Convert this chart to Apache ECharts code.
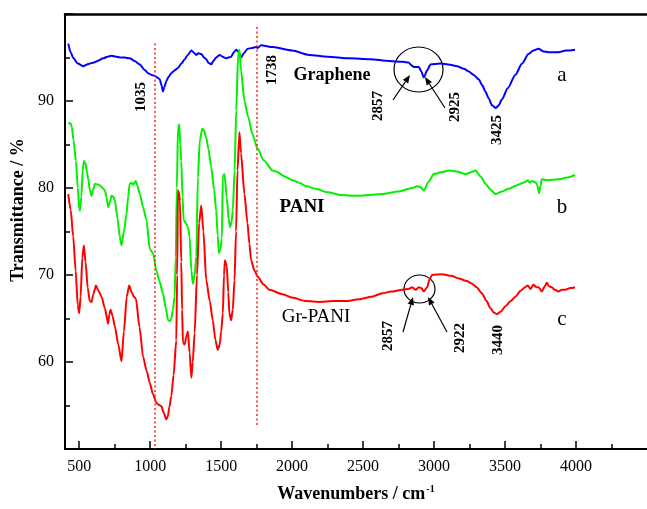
<!DOCTYPE html>
<html>
<head>
<meta charset="utf-8">
<script src="https://cdn.jsdelivr.net/npm/echarts@6/dist/echarts.min.js"></script>
<style>html,body{margin:0;padding:0;background:#fff;}#c{width:647px;height:509px;}</style>
</head>
<body>
<div id="c"></div>
<script>
// ---------- data (wavenumber cm-1, transmittance %) ----------
const graphene = [[423,96.6],[440,95.6],[458,94.95],[490,94.3],[528,94.0],[555,94.2],[576,94.3],[599,94.4],[630,94.6],[669,94.9],[700,95.1],[728,95.2],[760,95.1],[786,95.0],[820,95.0],[856,94.9],[890,94.6],[927,94.2],[960,93.6],[985,93.2],[1010,93.0],[1032,92.9],[1050,92.7],[1067,92.5],[1080,91.8],[1090,91.1],[1100,91.6],[1114,92.3],[1130,92.8],[1149,93.2],[1170,93.5],[1196,93.8],[1220,94.3],[1243,94.8],[1265,95.3],[1290,95.8],[1305,95.6],[1325,95.3],[1340,95.5],[1360,95.4],[1380,95.0],[1395,94.8],[1410,94.4],[1430,94.2],[1445,94.6],[1465,95.0],[1488,95.3],[1510,95.1],[1535,94.9],[1550,95.0],[1570,95.1],[1590,95.6],[1606,95.9],[1620,95.7],[1641,95.0],[1660,95.5],[1687,96.0],[1720,96.1],[1746,96.2],[1757,96.1],[1781,96.4],[1863,96.2],[2000,95.8],[2120,95.3],[2250,95.1],[2401,94.9],[2550,94.8],[2682,94.6],[2780,94.5],[2823,94.4],[2840,94.1],[2858,93.9],[2893,93.9],[2910,93.4],[2928,92.7],[2950,93.5],[2975,94.2],[3045,94.3],[3100,94.2],[3162,94.0],[3210,93.7],[3244,93.4],[3280,93.0],[3314,92.5],[3340,91.8],[3361,91.1],[3385,90.3],[3408,89.5],[3436,89.2],[3455,89.5],[3478,90.2],[3520,91.5],[3572,93.0],[3620,94.3],[3665,95.4],[3700,95.8],[3736,96.0],[3770,95.7],[3806,95.6],[3876,95.6],[3930,95.8],[3993,95.9]];

const pani = [[423,87.5],[440,87.4],[447,87.1],[460,85.5],[477,83.1],[490,80.0],[500,77.6],[505,77.4],[515,79.0],[525,82.0],[533,83.1],[545,82.8],[555,81.8],[564,81.0],[575,79.8],[587,79.1],[598,79.8],[611,80.5],[630,80.4],[646,80.3],[665,80.0],[681,79.7],[692,79.0],[704,77.8],[715,78.3],[728,79.1],[740,79.0],[751,78.6],[770,76.5],[785,74.5],[798,73.4],[815,75.0],[833,77.0],[845,79.0],[856,80.5],[868,80.6],[880,80.4],[899,80.8],[910,80.3],[927,79.3],[950,77.8],[974,76.3],[997,73.0],[1020,72.5],[1044,70.5],[1065,69.3],[1090,67.9],[1110,66.2],[1126,64.8],[1140,64.7],[1149,65.0],[1160,66.0],[1172,67.5],[1180,72.0],[1188,80.0],[1196,87.0],[1205,87.3],[1212,85.0],[1219,83.1],[1228,79.0],[1236,76.3],[1250,76.0],[1266,75.5],[1278,74.4],[1290,70.5],[1301,69.0],[1313,70.0],[1325,72.1],[1336,81.2],[1350,85.5],[1367,86.8],[1380,86.6],[1395,85.8],[1410,84.5],[1430,82.4],[1450,79.8],[1465,77.4],[1476,74.5],[1484,72.5],[1495,73.0],[1505,74.2],[1512,81.4],[1523,81.6],[1540,78.9],[1552,76.5],[1563,75.5],[1575,76.2],[1582,77.4],[1595,82.0],[1606,88.9],[1620,95.5],[1629,95.9],[1640,93.5],[1664,90.0],[1690,88.2],[1720,86.2],[1757,84.5],[1800,83.2],[1863,82.0],[1886,81.9],[1950,81.3],[2003,80.9],[2050,80.6],[2100,80.2],[2167,79.9],[2249,79.5],[2350,79.2],[2448,79.1],[2550,79.2],[2635,79.3],[2750,79.6],[2846,80.0],[2880,80.2],[2905,80.1],[2928,79.7],[2960,80.7],[2998,81.6],[3050,81.8],[3103,82.0],[3160,81.9],[3221,81.6],[3260,81.8],[3291,82.0],[3330,81.3],[3361,80.5],[3400,79.8],[3431,79.3],[3480,79.6],[3525,79.9],[3580,80.3],[3642,80.7],[3660,80.9],[3675,80.6],[3689,80.8],[3710,80.7],[3724,80.5],[3740,79.4],[3750,80.3],[3759,81.0],[3800,80.9],[3876,81.0],[3940,81.2],[3993,81.5]];

const grPani = [[423,79.3],[440,77.5],[458,74.4],[475,70.5],[490,66.5],[500,65.6],[510,67.5],[522,72.0],[533,73.4],[545,71.5],[560,68.5],[575,67.0],[587,66.9],[600,67.8],[618,68.8],[635,68.2],[658,67.5],[680,66.2],[704,64.4],[712,65.5],[721,66.0],[735,65.3],[751,64.1],[775,62.0],[798,60.1],[815,63.5],[835,67.5],[852,68.8],[870,68.0],[885,67.5],[899,67.3],[925,64.0],[950,60.6],[975,59.0],[997,57.6],[1020,56.3],[1044,55.3],[1060,55.1],[1079,54.9],[1095,54.2],[1114,53.4],[1125,53.8],[1135,54.8],[1149,56.1],[1165,58.5],[1184,62.5],[1190,70.0],[1196,79.7],[1202,79.5],[1210,78.5],[1219,71.5],[1225,66.0],[1231,62.2],[1243,62.0],[1254,62.9],[1266,63.5],[1278,61.0],[1290,58.2],[1300,60.0],[1313,63.3],[1330,70.0],[1345,76.0],[1360,78.0],[1375,75.0],[1395,69.4],[1420,67.0],[1441,64.8],[1460,62.5],[1476,61.4],[1490,62.0],[1500,63.5],[1512,65.6],[1520,70.0],[1527,71.7],[1540,71.0],[1550,68.0],[1558,65.6],[1570,64.8],[1582,66.0],[1594,69.4],[1605,75.0],[1615,82.0],[1629,86.4],[1640,84.0],[1664,79.3],[1685,76.0],[1699,73.6],[1711,71.7],[1735,70.5],[1757,69.8],[1800,68.9],[1839,68.3],[1933,67.8],[2000,67.4],[2097,67.0],[2200,66.9],[2284,67.0],[2380,67.0],[2471,67.2],[2560,67.5],[2635,67.9],[2700,68.1],[2776,68.3],[2820,68.4],[2846,68.6],[2870,68.3],[2893,68.6],[2910,68.5],[2928,68.1],[2951,68.6],[2968,69.5],[2986,70.0],[3056,70.1],[3120,69.9],[3174,69.6],[3230,69.3],[3267,69.0],[3300,68.6],[3337,67.9],[3370,67.0],[3396,66.2],[3420,65.7],[3443,65.5],[3470,65.8],[3502,66.4],[3540,67.0],[3572,67.5],[3610,68.2],[3642,68.6],[3660,68.8],[3680,68.4],[3700,68.9],[3720,68.6],[3736,68.6],[3759,68.1],[3780,68.7],[3794,69.1],[3810,68.7],[3829,68.6],[3850,68.3],[3876,68.1],[3900,68.3],[3923,68.3],[3960,68.5],[3993,68.6]];

const xLabelValues = [500,1000,1500,2000,2500,3000,3500,4000];
const xMinorValues = [750,1250,1750,2250,2750,3250,3750,4250];
const yLabelValues = [60,70,80,90];
const refLines = [[1035, 96.6, 50], [1750, 98.5, 52.5]];

// ---------- chart ----------
const FONT = '"Liberation Serif", "Times New Roman", serif';
const chart = echarts.init(document.getElementById('c'), null, {renderer: 'canvas'});

function arrow(x0, y0, x1, y1) {
  const dx = x1 - x0, dy = y1 - y0, L = Math.hypot(dx, dy);
  const ux = dx / L, uy = dy / L, hl = 8, hw = 3.2;
  const bx = x1 - ux * hl, by = y1 - uy * hl;
  return {
    type: 'group', children: [
      {type: 'line', shape: {x1: x0, y1: y0, x2: bx, y2: by}, style: {stroke: '#000', lineWidth: 1.2}},
      {type: 'polygon', shape: {points: [[x1, y1], [bx - uy * hw, by + ux * hw], [bx + uy * hw, by - ux * hw]]}, style: {fill: '#000'}}
    ]
  };
}
function vtext(t, x, y, size, weight) {
  return {type: 'text', x: x, y: y, rotation: Math.PI / 2,
    style: {text: t, font: (weight || 'bold') + ' ' + size + 'px ' + FONT, fill: '#000', textAlign: 'center', textVerticalAlign: 'middle'}};
}
function htext(t, x, y, size, weight) {
  return {type: 'text', x: x, y: y,
    style: {text: t, font: (weight || 'normal') + ' ' + size + 'px ' + FONT, fill: '#000', textAlign: 'center', textVerticalAlign: 'middle'}};
}

const lineSeries = (name, data, color) => ({
  name: name, type: 'line', data: data, showSymbol: false, symbol: 'none',
  smooth: 0.25, smoothMonotone: 'x',
  lineStyle: {color: color, width: 2}, xAxisIndex: 0, yAxisIndex: 0, z: 3
});

const option = {
  animation: false,
  backgroundColor: '#fff',
  grid: {left: 65, top: 14, right: -2, bottom: 60},
  xAxis: [
    {type: 'value', position: 'bottom', min: 400, max: 4500,
     axisLine: {show: true, lineStyle: {color: '#000', width: 2}},
     axisTick: {show: true, inside: true, length: 8, customValues: xLabelValues, lineStyle: {color: '#000', width: 1.5}},
     axisLabel: {show: true, customValues: xLabelValues, color: '#000', fontFamily: FONT, fontSize: 16, margin: 10,
       formatter: v => String(v)},
     splitLine: {show: false}},
    {type: 'value', position: 'bottom', min: 400, max: 4500,
     axisLine: {show: false},
     axisTick: {show: true, inside: true, length: 5, customValues: xMinorValues, lineStyle: {color: '#000', width: 1.5}},
     axisLabel: {show: false}, splitLine: {show: false}},
    {type: 'value', position: 'top', min: 400, max: 4500,
     axisLine: {show: true, lineStyle: {color: '#000', width: 2.5}},
     axisTick: {show: false}, axisLabel: {show: false}, splitLine: {show: false}}
  ],
  yAxis: [
    {type: 'value', min: 50, max: 100, interval: 10, position: 'left',
     axisLine: {show: true, lineStyle: {color: '#000', width: 2}},
     axisTick: {show: true, inside: true, length: 8, lineStyle: {color: '#000', width: 1.5}},
     minorTick: {show: true, splitNumber: 2, length: 5, lineStyle: {color: '#000', width: 1.5}},
     axisLabel: {color: '#000', fontFamily: FONT, fontSize: 16, margin: 11,
       formatter: v => yLabelValues.indexOf(v) >= 0 ? String(v) : ''},
     splitLine: {show: false}}
  ],
  series: [
    lineSeries('Graphene', graphene, '#0000ff'),
    lineSeries('PANI', pani, '#00f000'),
    Object.assign(lineSeries('Gr-PANI', grPani, '#ff0000'), {
      markLine: {silent: true, symbol: 'none', label: {show: false}, animation: false,
        lineStyle: {color: '#ff2020', width: 1.5, type: [2, 2.5]},
        data: refLines.map(r => [{coord: [r[0], r[1]]}, {coord: [r[0], r[2]]}])}
    })
  ],
  graphic: [
    {type: 'text', x: 18, y: 210, rotation: Math.PI / 2,
     style: {text: 'Transmittance / %', font: 'bold 18px ' + FONT, fill: '#000', textAlign: 'center', textVerticalAlign: 'middle'}},
    {type: 'text', x: 356, y: 494,
     style: {text: '{a|Wavenumbers / cm}{s|-1}', textAlign: 'center', textVerticalAlign: 'middle', fill: '#000',
       rich: {a: {font: 'bold 18px ' + FONT, fill: '#000'}, s: {font: 'bold 10px ' + FONT, fill: '#000', verticalAlign: 'top', padding: [0, 0, 10, 1]}}}},
    vtext('1035', 141, 97, 15),
    vtext('1738', 272, 70, 15),
    htext('Graphene', 332, 75, 18, 'bold'),
    htext('PANI', 302, 207, 19, 'bold'),
    htext('Gr-PANI', 316, 317, 19, 'normal'),
    htext('a', 562, 75, 21),
    htext('b', 562, 207, 21),
    htext('c', 562, 319, 21),
    vtext('2857', 378, 106, 15),
    vtext('2925', 455, 107, 15),
    vtext('3425', 497, 130, 15),
    vtext('2857', 388, 336, 15),
    vtext('2922', 460, 338, 15),
    vtext('3440', 498, 340, 15),
    {type: 'ellipse', shape: {cx: 418.5, cy: 69.5, rx: 24.5, ry: 22.5}, style: {fill: 'none', stroke: '#000', lineWidth: 1.2}},
    {type: 'ellipse', shape: {cx: 419.5, cy: 289, rx: 15.5, ry: 14}, style: {fill: 'none', stroke: '#000', lineWidth: 1.2}},
    arrow(393, 100, 410, 75),
    arrow(445, 108, 425, 77),
    arrow(403, 332, 413, 297),
    arrow(447, 332, 428, 297)
  ]
};
chart.setOption(option);
</script>
</body>
</html>
